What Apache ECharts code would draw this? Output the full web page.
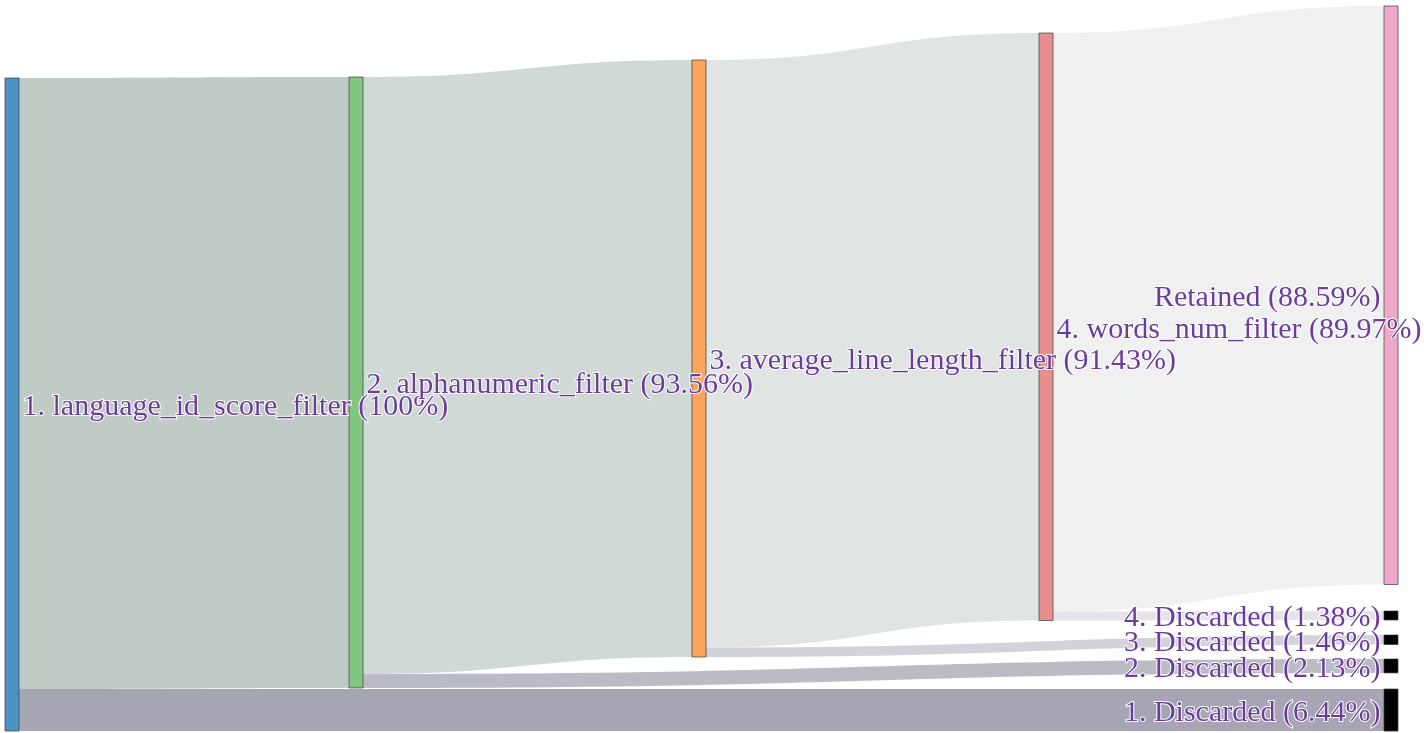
<!DOCTYPE html>
<html>
<head>
<meta charset="utf-8">
<script src="https://cdn.jsdelivr.net/npm/echarts@6/dist/echarts.min.js"></script>
<style>
  html, body { margin: 0; padding: 0; background: #fff; }
  #chart { width: 1424px; height: 733px; }
</style>
</head>
<body>
<div id="chart"></div>
<script>
// node names (labels)
const nodeNames = [
  '1. language_id_score_filter (100%)',
  '2. alphanumeric_filter (93.56%)',
  '3. average_line_length_filter (91.43%)',
  '4. words_num_filter (89.97%)',
  'Retained (88.59%)',
  '4. Discarded (1.38%)',
  '3. Discarded (1.46%)',
  '2. Discarded (2.13%)',
  '1. Discarded (6.44%)'
]
const nodeColors = ['#4c92c3', '#80c67f', '#fda55c', '#e88e8f', '#f0a8c9', '#000', '#000', '#000', '#000']

// links: source index, target index, share in %
const linkSource = [0, 0, 1, 1, 2, 2, 3, 3]
const linkTarget = [1, 8, 2, 7, 3, 6, 4, 5]
const linkValue = [93.56, 6.44, 91.43, 2.13, 89.97, 1.46, 88.59, 1.38]
const linkColors = ['#c0cbc6', '#a6a5b3', '#d0d9d5', '#bbbbc6', '#e0e5e3', '#d2d2da', '#eff0f0', '#e4e4e9']

// placement of the nodes in pixels (left edge, top edge)
const nodeX = [5, 349, 692, 1039, 1384, 1384, 1384, 1384, 1384]
const nodeY = [78, 77, 60, 33, 6, 611, 635, 659, 689]

const areaLeft = 5, areaTop = 6, areaW = 1393, areaH = 725

const chart = echarts.init(document.getElementById('chart'))

const nodes = nodeNames.map((name, i) => ({
  name: name,
  localX: (nodeX[i] - areaLeft) / areaW,
  localY: (nodeY[i] - areaTop) / areaH,
  itemStyle: { color: nodeColors[i], borderColor: 'rgba(60,60,60,0.7)', borderWidth: 1 },
  label: { position: i >= 4 ? 'left' : 'right' }
}))

const links = linkSource.map((s, i) => ({
  source: nodeNames[s],
  target: nodeNames[linkTarget[i]],
  value: linkValue[i],
  lineStyle: { color: linkColors[i], opacity: 1 }
}))

chart.setOption({
  animation: false,
  series: [{
    type: 'sankey',
    left: areaLeft,
    top: areaTop,
    width: areaW,
    height: areaH,
    nodeWidth: 14,
    nodeGap: 18,
    layoutIterations: 0,
    draggable: false,
    emphasis: { disabled: true },
    lineStyle: { curveness: 0.5 },
    label: {
      color: '#6a3d9a',
      fontFamily: '"Liberation Serif", "DejaVu Serif", serif',
      fontSize: 30,
      distance: 3,
      offset: [0, 3],
      textBorderColor: '#fff',
      textBorderWidth: 2
    },
    data: nodes,
    links: links
  }]
})
</script>
</body>
</html>
